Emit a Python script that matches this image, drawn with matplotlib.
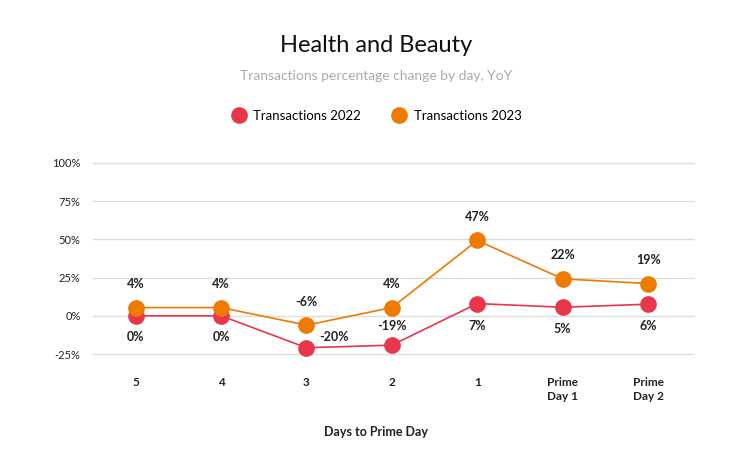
import matplotlib
matplotlib.use("Agg")
import matplotlib.pyplot as plt
from matplotlib.lines import Line2D

categories = ["5", "4", "3", "2", "1", "Prime\nDay 1", "Prime\nDay 2"]
values_2022 = [0.0, 0.0, -20.9, -19.2, 8.0, 5.6, 7.6]
values_2023 = [5.4, 5.4, -6.1, 5.4, 49.3, 24.2, 21.1]
labels_2022 = ["0%", "0%", "-20%", "-19%", "7%", "5%", "6%"]
labels_2023 = ["4%", "4%", "-6%", "4%", "47%", "22%", "19%"]
yticks = [-25, 0, 25, 50, 75, 100]
ytick_labels = ["-25%", "0%", "25%", "50%", "75%", "100%"]

c22 = "#E8364B"
c23 = "#EE7A00"
font = "Lato"
plt.rcParams['font.family'] = [font, 'DejaVu Sans']

fig = plt.figure(figsize=(7.52, 4.76), dpi=100)
ax = fig.add_axes([93/752, 1-356/476, (695-93)/752, (356-161)/476])
x = list(range(len(categories)))
ax.plot(x, values_2022, color=c22, lw=1.2, marker="o", ms=11, mec=c22, zorder=3)
ax.plot(x, values_2023, color=c23, lw=1.2, marker="o", ms=11, mec=c23, zorder=3)

ax.set_xlim(-0.5, len(categories)-0.45)
ax.set_ylim(-26.3, 101.3)
ax.set_yticks(yticks)
ax.set_yticklabels(ytick_labels, fontsize=8, color="#222222")
ax.set_xticks(x)
ax.set_xticklabels(categories, fontsize=8.5, fontweight="bold", color="#222222", linespacing=1.3, va="top")
ax.tick_params(axis="both", length=0)
ax.tick_params(axis="x", pad=15)
ax.tick_params(axis="y", pad=9)
ax.grid(axis="y", color="#DDDDDD", lw=1)
ax.set_axisbelow(True)
for s in ax.spines.values():
    s.set_visible(False)

# label offsets (points)
off22 = [(0, -15), (0, -15), (20, 8), (0, 14), (0, -16), (0, -16), (0, -16)]
off23 = [(0, 17), (0, 17), (0, 17), (0, 17), (0, 17), (0, 17), (0, 17)]
for i in x:
    ax.annotate(labels_2022[i], (i, values_2022[i]), xytext=off22[i], textcoords="offset points",
                ha="center", va="center", fontsize=9, fontweight="bold", color="#222222")
    ax.annotate(labels_2023[i], (i, values_2023[i]), xytext=off23[i], textcoords="offset points",
                ha="center", va="center", fontsize=9, fontweight="bold", color="#222222")

fig.text(0.5, 1-432/476, "Days to Prime Day", ha="center", va="center", fontsize=9, fontweight="bold", color="#222222")
fig.text(0.5, 1-46/476, "Health and Beauty", ha="center", va="center", fontsize=17, color="#111111")
fig.text(0.5, 1-76/476, "Transactions percentage change by day, YoY", ha="center", va="center", fontsize=10, color="#AAAAAA")

handles = [Line2D([], [], ls="none", marker="o", ms=11, color=c22),
           Line2D([], [], ls="none", marker="o", ms=11, color=c23)]
fig.legend(handles, ["Transactions 2022", "Transactions 2023"], loc="center", bbox_to_anchor=(0.5, 1-116/476),
           ncol=2, frameon=False, fontsize=9.5, handletextpad=0.5, columnspacing=2.3, handlelength=1.2)

fig.savefig("out.png", dpi=100, facecolor="white")
